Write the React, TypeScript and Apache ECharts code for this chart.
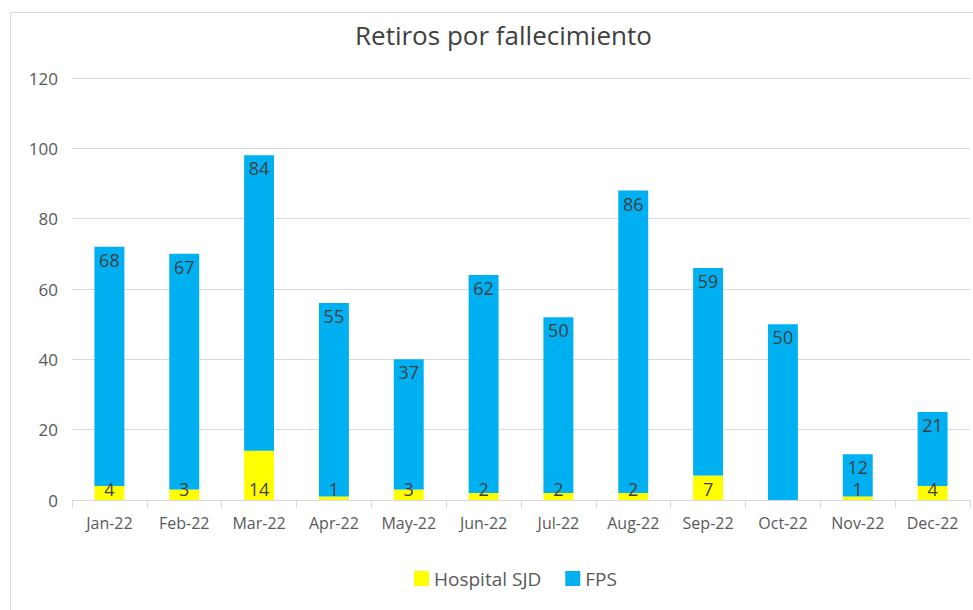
import React, { useEffect, useRef } from "react";
import * as echarts from "echarts";

const categories = ["Jan-22", "Feb-22", "Mar-22", "Apr-22", "May-22", "Jun-22", "Jul-22", "Aug-22", "Sep-22", "Oct-22", "Nov-22", "Dec-22"];
const hospitalSJD = [4, 3, 14, 1, 3, 2, 2, 2, 7, 0, 1, 4];
const fps = [68, 67, 84, 55, 37, 62, 50, 86, 59, 50, 12, 21];
const yTicks = [0, 20, 40, 60, 80, 100, 120];

const FONT = "'Open Sans', sans-serif";

export default function App() {
  const ref = useRef<HTMLDivElement>(null);
  useEffect(() => {
    document.body.style.margin = "0";
    const chart = echarts.init(ref.current!, null, { renderer: "svg" });
    chart.setOption({
      animation: false,
      textStyle: { fontFamily: FONT },
      title: {
        text: "Retiros por fallecimiento",
        left: 350,
        top: 17,
        textStyle: { fontFamily: FONT, fontSize: 26, fontWeight: "normal", color: "#404040" },
      },
      graphic: [
        {
          type: "rect",
          shape: { x: 10.5, y: 12.5, width: 1000, height: 700 },
          style: { fill: "none", stroke: "#d9d9d9", lineWidth: 1 },
          silent: true,
        },
      ],
      legend: {
        bottom: 17,
        left: 409,
        itemWidth: 15,
        itemHeight: 15,
        itemGap: 24,
        icon: "rect",
        textStyle: { fontFamily: FONT, fontSize: 19, color: "#595959" },
        data: ["Hospital SJD", "FPS"],
      },
      grid: { left: 72, right: 3, top: 78, bottom: 110 },
      xAxis: {
        type: "category",
        data: categories,
        axisLine: { lineStyle: { color: "#d9d9d9", width: 1 } },
        axisTick: { show: true, interval: 0, alignWithLabel: false, length: 8, lineStyle: { color: "#d9d9d9" } },
        axisLabel: { interval: 0, fontFamily: FONT, fontSize: 16, color: "#595959", margin: 15 },
      },
      yAxis: {
        type: "value",
        min: yTicks[0],
        max: yTicks[yTicks.length - 1],
        interval: 20,
        axisLine: { show: false },
        axisTick: { show: false },
        splitLine: { lineStyle: { color: "#d9d9d9", width: 1 } },
        axisLabel: { fontFamily: FONT, fontSize: 17, color: "#595959", margin: 14 },
      },
      series: [
        {
          name: "Hospital SJD",
          type: "bar",
          stack: "total",
          barWidth: "40%",
          data: hospitalSJD,
          itemStyle: { color: "#FFFF00" },
          label: {
            show: true,
            position: "insideBottom",
            distance: 2,
            fontFamily: FONT,
            fontSize: 18,
            color: "#404040",
            formatter: (p: any) => (p.value === 0 ? "" : String(p.value)),
          },
        },
        {
          name: "FPS",
          type: "bar",
          stack: "total",
          barWidth: "40%",
          data: fps,
          itemStyle: { color: "#00B0F0" },
          label: {
            show: true,
            position: "insideTop",
            distance: 4,
            fontFamily: FONT,
            fontSize: 18,
            color: "#404040",
          },
        },
      ],
    });
    return () => chart.dispose();
  }, []);
  return <div ref={ref} style={{ width: 973, height: 610 }} />;
}
